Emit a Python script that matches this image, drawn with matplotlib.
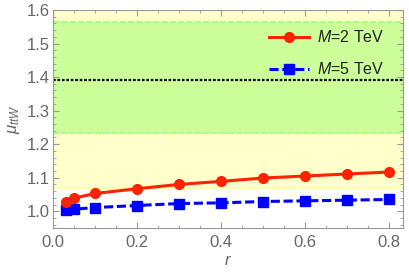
import numpy as np
import matplotlib
matplotlib.use('Agg')
from matplotlib import pyplot as plt
from matplotlib.ticker import MultipleLocator, FormatStrFormatter

plt.rcParams['font.family'] = ['Liberation Sans', 'DejaVu Sans']
plt.rcParams['mathtext.fontset'] = 'custom'
plt.rcParams['mathtext.it'] = 'Liberation Sans:italic'
plt.rcParams['mathtext.rm'] = 'Liberation Sans'

r = [0.03, 0.05, 0.1, 0.2, 0.3, 0.4, 0.5, 0.6, 0.7, 0.8]
mu_2tev = [1.027, 1.039, 1.053, 1.067, 1.080, 1.089, 1.099, 1.105, 1.111, 1.117]
mu_5tev = [1.005, 1.006, 1.011, 1.017, 1.023, 1.025, 1.029, 1.031, 1.033, 1.035]

yellow_band = (1.07, 1.60)
green_band = (1.232, 1.563)
central = 1.391

gray = '#666666'

fig = plt.figure(figsize=(4.09, 2.78), dpi=100)
ax = fig.add_axes([53/409, 1 - 228/278, 350/409, 218/278])

## bands
ax.axhspan(yellow_band[0], yellow_band[1], color='#FFFFCC', lw=0, zorder=0)
ax.axhline(yellow_band[0], color='#FFFF99', lw=1.2, zorder=1)
ax.axhspan(green_band[0], green_band[1], color='#CCFF99', lw=0, zorder=0)
for g in green_band:
    ax.axhline(g, color='#A6FF80', lw=1.5, ls=(0, (3, 1)), zorder=1)
ax.axhline(central, color='black', lw=1.6, ls=(0, (1.2, 0.8)), zorder=2)

## curves
ax.plot(r, mu_2tev, color='#FF2200', lw=2.2, marker='o', ms=7,
        label='$M$=2 TeV', zorder=4)
ax.plot(r, mu_5tev, color='#0000FF', lw=2.2, ls=(0, (3, 1.2)), marker='s', ms=7.5,
        label='$M$=5 TeV', zorder=3)

ax.set_xlim(0, 0.833)
ax.set_ylim(0.95, 1.6)
ax.xaxis.set_major_locator(MultipleLocator(0.2))
ax.xaxis.set_minor_locator(MultipleLocator(0.05))
ax.yaxis.set_major_locator(MultipleLocator(0.1))
ax.yaxis.set_minor_locator(MultipleLocator(0.02))
ax.xaxis.set_major_formatter(FormatStrFormatter('%.1f'))
ax.yaxis.set_major_formatter(FormatStrFormatter('%.1f'))
ax.tick_params(which='both', direction='in', top=True, right=True,
               color='#999999', labelcolor=gray, labelsize=12)
ax.tick_params(axis='x', which='major', pad=5)
ax.tick_params(axis='y', which='major', pad=2)
ax.tick_params(which='major', length=4, width=0.8)
ax.tick_params(which='minor', length=2.5, width=0.6)
for s in ax.spines.values():
    s.set_color('#999999')

ax.set_xlabel('$r$', color=gray, fontsize=12, labelpad=2)
ax.set_ylabel(r'$\mu_{ttW}$', color=gray, fontsize=12, labelpad=4)

leg = ax.legend(loc='upper right', frameon=False, fontsize=11.5,
                handlelength=2.5, labelspacing=1.0, borderaxespad=0.8,
                handletextpad=0.5)
for t in leg.get_texts():
    t.set_color('#222222')

fig.savefig('out.png', dpi=100)
